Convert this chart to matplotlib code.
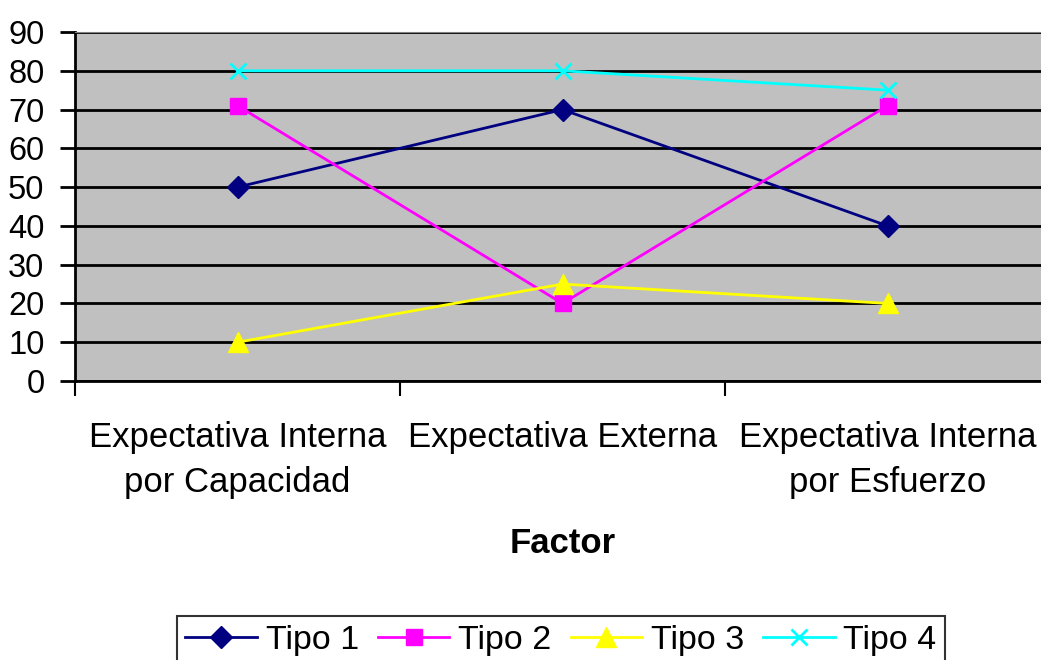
import matplotlib.pyplot as plt

plt.rcParams['font.family'] = ['Liberation Sans', 'DejaVu Sans']

factores = ["Expectativa Interna\npor Capacidad", "Expectativa Externa",
            "Expectativa Interna\npor Esfuerzo"]
tipo1 = [50, 70, 40]
tipo2 = [71, 20, 71]
tipo3 = [10, 25, 20]
tipo4 = [80, 80, 75]
series = ["Tipo 1", "Tipo 2", "Tipo 3", "Tipo 4"]

fig = plt.figure(figsize=(10.41, 6.60), dpi=100)
ax = fig.add_axes([75/1041, 1 - 381/660, 975/1041, 349/660])
ax.set_facecolor("#C0C0C0")

x = [0.5, 1.5, 2.5]
ax.plot(x, tipo1, color="#000080", marker="D", ms=11, lw=2, label=series[0], zorder=3)
ax.plot(x, tipo2, color="#FF00FF", marker="s", ms=12, lw=2, label=series[1], zorder=3)
ax.plot(x, tipo3, color="#FFFF00", marker="^", ms=14, lw=2, label=series[2], zorder=3)
ax.plot(x, tipo4, color="#00FFFF", marker="x", ms=12, mew=2, lw=2, label=series[3], zorder=3)

ax.set_xlim(0, 3)
ax.set_ylim(0, 90)
ax.set_yticks(range(0, 91, 10))
ax.yaxis.grid(True, color="black", lw=2)
ax.set_axisbelow(True)
ax.set_xticks([0, 1, 2, 3])
ax.set_xticklabels([])
ax.set_xticks(x, minor=True)
ax.set_xticklabels(factores, minor=True, fontsize=25, linespacing=1.45)
ax.tick_params(axis="x", which="minor", length=0, pad=29)
ax.tick_params(axis="x", which="major", length=11, width=1.5, direction="out")
ax.tick_params(axis="y", length=11, width=2, labelsize=23.5, pad=11)
ax.set_xlabel("Factor", fontsize=25, fontweight="bold", labelpad=20)

ax.spines["right"].set_visible(False)
ax.spines["top"].set_color("#808080")
ax.spines["left"].set_linewidth(2)
ax.spines["bottom"].set_linewidth(2)

leg = fig.legend(loc="upper center", bbox_to_anchor=(561/1041, 1 - 599/660), ncol=4,
                 fontsize=24.5, frameon=True, fancybox=False, handlelength=2.1,
                 handletextpad=0.26, columnspacing=0.56, borderpad=0.25)
leg.get_frame().set_edgecolor("black")
leg.get_frame().set_linewidth(1.5)

fig.savefig("out.png", dpi=100)
